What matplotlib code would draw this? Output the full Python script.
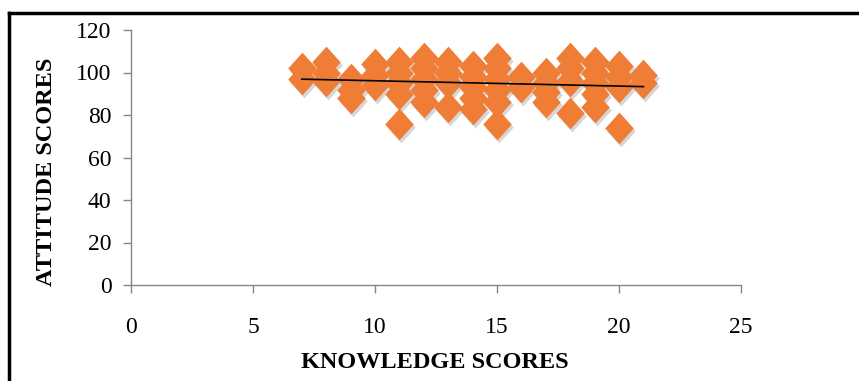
import numpy as np
import matplotlib
matplotlib.use("Agg")
import matplotlib.pyplot as plt
import matplotlib.transforms as mtransforms
from matplotlib.lines import Line2D

# knowledge score vs attitude score
knowledge = [7, 7,
             8, 8, 8,
             9, 9, 9,
             10, 10, 10,
             11, 11, 11, 11, 11,
             12, 12, 12, 12, 12,
             13, 13, 13, 13,
             14, 14, 14, 14, 14,
             15, 15, 15, 15, 15, 15,
             16, 16,
             17, 17, 17, 17,
             18, 18, 18, 18,
             19, 19, 19, 19, 19,
             20, 20, 20, 20,
             21, 21]
attitude = [102, 97,
            105, 100, 96,
            97, 92, 88,
            104, 99, 94,
            105, 100, 95, 90, 76,
            107, 102, 97, 92, 86,
            105, 100, 95, 84,
            103, 98, 93, 88, 83,
            107, 102, 97, 92, 86, 76,
            98, 93,
            100, 95, 91, 86,
            107, 102, 96, 81,
            105, 100, 95, 90, 84,
            103, 98, 93, 74,
            99, 95]

x_ticks = [0, 5, 10, 15, 20, 25]
y_ticks = [0, 20, 40, 60, 80, 100, 120]

plt.rcParams["font.family"] = ["Liberation Serif", "DejaVu Serif"]

fig = plt.figure(figsize=(8.59, 3.81), dpi=100)
ax = fig.add_axes([131 / 859, 1 - 285 / 381, 610 / 859, 255 / 381])

diamond = [(0, 1), (0.9, 0), (0, -1), (-0.9, 0), (0, 1)]
x = np.array(knowledge)
y = np.array(attitude)

# soft drop shadow like the Excel marker effect
shadow = mtransforms.offset_copy(ax.transData, fig=fig, x=2, y=-3, units="dots")
ax.scatter(x, y, s=520, marker=diamond, color="#7a7a7a", alpha=0.3,
           linewidths=0, transform=shadow, zorder=2)
ax.scatter(x, y, s=520, marker=diamond, color="#F07D35", linewidths=0, zorder=3)

# linear trend line
k, b = np.polyfit(x, y, 1)
xs = np.array([x.min(), x.max()])
ax.plot(xs, k * xs + b, color="black", linewidth=1.2, zorder=4)

ax.set_xlim(0, 25)
ax.set_ylim(0, 120)
ax.set_xticks(x_ticks)
ax.set_yticks(y_ticks)
ax.tick_params(axis="both", direction="out", length=6, width=1, color="#868686",
               labelsize=17, labelcolor="black")
ax.tick_params(axis="x", pad=17)
ax.tick_params(axis="y", pad=8)
for side in ("top", "right"):
    ax.spines[side].set_visible(False)
for side in ("left", "bottom"):
    ax.spines[side].set_color("#868686")
    ax.spines[side].set_linewidth(1)

fig.text(435 / 859, 1 - 362 / 381, "KNOWLEDGE SCORES", ha="center", va="center",
         fontsize=17.5, fontweight="bold")
fig.text(47 / 859, 1 - 172 / 381, "ATTITUDE SCORES", ha="center", va="center",
         rotation=90, fontsize=17.5, fontweight="bold")

# outer frame (left and top edges visible)
fig.add_artist(Line2D([9 / 859, 9 / 859], [0, 1 - 13 / 381], color="black", linewidth=2.5,
                      transform=fig.transFigure))
fig.add_artist(Line2D([9 / 859, 1], [1 - 13 / 381, 1 - 13 / 381], color="black", linewidth=2.5,
                      transform=fig.transFigure))

fig.savefig("out.png", dpi=100)
